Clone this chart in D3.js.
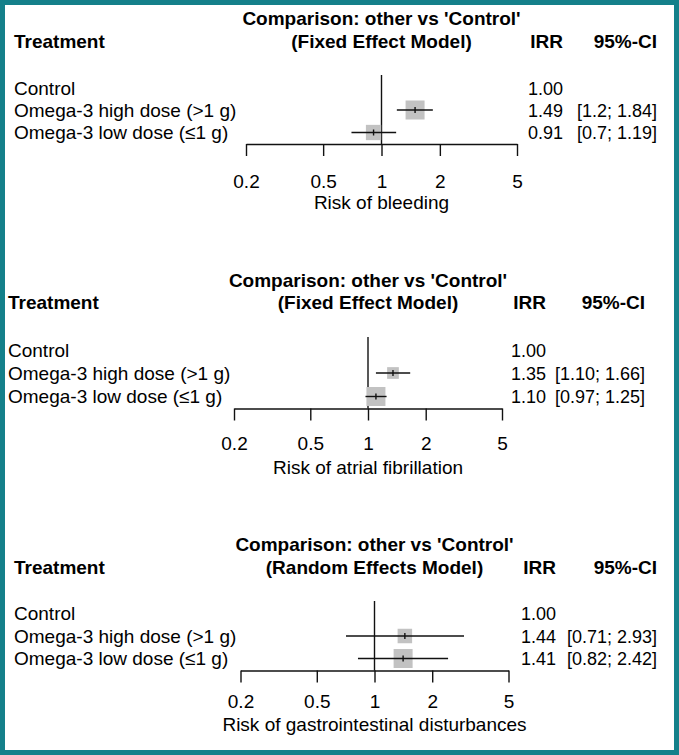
<!DOCTYPE html>
<html>
<head>
<meta charset="utf-8">
<script src="https://cdn.jsdelivr.net/npm/d3@7"></script>
<style>
  html, body { margin: 0; padding: 0; background: #ffffff; }
  svg { display: block; }
  text { font-family: "Liberation Sans", Arial, Helvetica, sans-serif; fill: #000; }
</style>
</head>
<body>
<svg id="chart" width="679" height="755"></svg>
<script>
// ---------------- DATA ----------------
const treatments = ["Control", "Omega-3 high dose (>1 g)", "Omega-3 low dose (\u22641 g)"];
const titleLine = "Comparison: other vs 'Control'";
const models = ["(Fixed Effect Model)", "(Fixed Effect Model)", "(Random Effects Model)"];
const outcomes = ["Risk of bleeding", "Risk of atrial fibrillation", "Risk of gastrointestinal disturbances"];
const irrBleeding = [1.00, 1.49, 0.91];
const lowerBleeding = [null, 1.2, 0.7];
const upperBleeding = [null, 1.84, 1.19];
const ciTextBleeding = ["", "[1.2; 1.84]", "[0.7; 1.19]"];
const irrAF = [1.00, 1.35, 1.10];
const lowerAF = [null, 1.10, 0.97];
const upperAF = [null, 1.66, 1.25];
const ciTextAF = ["", "[1.10; 1.66]", "[0.97; 1.25]"];
const irrGI = [1.00, 1.44, 1.41];
const lowerGI = [null, 0.71, 0.82];
const upperGI = [null, 2.93, 2.42];
const ciTextGI = ["", "[0.71; 2.93]", "[0.82; 2.42]"];
const tickValues = [0.2, 0.5, 1, 2, 5];
const tickLabels = ["0.2", "0.5", "1", "2", "5"];
const xDomain = [0.2, 5];

// ---------------- LAYOUT ----------------
const panels = [
  { irr: irrBleeding, lo: lowerBleeding, hi: upperBleeding, ci: ciTextBleeding,
    titleY: 25, headerY: 48, rowY: [88.5, 110, 132.5], axisY: 144, refTop: 75,
    tickLabelY: 188, axisTitleY: 209, xRange: [246, 517], treatX: 14, irrRight: 563, ciRight: 657 },
  { irr: irrAF, lo: lowerAF, hi: upperAF, ci: ciTextAF,
    titleY: 287, headerY: 309, rowY: [350, 373, 396.5], axisY: 408.5, refTop: 337,
    tickLabelY: 450, axisTitleY: 474, xRange: [234, 502], treatX: 8, irrRight: 546, ciRight: 645 },
  { irr: irrGI, lo: lowerGI, hi: upperGI, ci: ciTextGI,
    titleY: 551, headerY: 574, rowY: [613, 636, 658.5], axisY: 670.5, refTop: 601,
    tickLabelY: 708, axisTitleY: 731, xRange: [240.5, 508.5], treatX: 14, irrRight: 556, ciRight: 657 }
];
const fontSize = 19;
const numFontSize = 18;
const tickLen = 12;
const maxBox = 19;
const lineColor = "#111111";
const lineWidth = 1.4;
const boxColor = "#c2c2c2";
const borderColor = "#14808a";

const svg = d3.select("#chart");
svg.append("rect").attr("x", 0).attr("y", 0).attr("width", 679).attr("height", 755).attr("fill", "#fff");

panels.forEach((p, pi) => {
  const g = svg.append("g");
  const x = d3.scaleLog().domain(xDomain).range(p.xRange);
  const cx = x(1);

  // inverse-variance weights from CI widths -> square side
  const se = p.irr.map((d, i) => p.lo[i] == null ? null : (Math.log(p.hi[i]) - Math.log(p.lo[i])) / (2 * 1.959964));
  const w = se.map(s => s == null ? 0 : 1 / (s * s));
  const wMax = d3.max(w);
  const size = d3.scaleSqrt().domain([0, wMax]).range([0, maxBox]);

  // titles
  g.append("text").attr("x", cx).attr("y", p.titleY).attr("text-anchor", "middle")
    .attr("font-weight", "bold").attr("font-size", fontSize).text(titleLine);
  g.append("text").attr("x", cx).attr("y", p.headerY).attr("text-anchor", "middle")
    .attr("font-weight", "bold").attr("font-size", fontSize).text(models[pi]);
  g.append("text").attr("x", p.treatX).attr("y", p.headerY)
    .attr("font-weight", "bold").attr("font-size", fontSize).text("Treatment");
  g.append("text").attr("x", p.irrRight).attr("y", p.headerY).attr("text-anchor", "end")
    .attr("font-weight", "bold").attr("font-size", fontSize).text("IRR");
  g.append("text").attr("x", p.ciRight).attr("y", p.headerY).attr("text-anchor", "end")
    .attr("font-weight", "bold").attr("font-size", fontSize).text("95%-CI");

  // reference line at 1
  g.append("line").attr("x1", cx).attr("x2", cx).attr("y1", p.refTop).attr("y2", p.axisY)
    .attr("stroke", lineColor).attr("stroke-width", lineWidth);

  // rows
  treatments.forEach((t, i) => {
    const y = p.rowY[i];
    g.append("text").attr("x", p.treatX).attr("y", y + 6.5).attr("font-size", fontSize).text(t);
    g.append("text").attr("x", p.irrRight).attr("y", y + 6.5).attr("text-anchor", "end")
      .attr("font-size", numFontSize).text(d3.format(".2f")(p.irr[i]));
    if (p.ci[i]) {
      g.append("text").attr("x", p.ciRight).attr("y", y + 6.5).attr("text-anchor", "end")
        .attr("font-size", numFontSize).text(p.ci[i]);
    }
    if (p.lo[i] != null) {
      const s = size(w[i]);
      g.append("rect").attr("x", x(p.irr[i]) - s / 2).attr("y", y - s / 2)
        .attr("width", s).attr("height", s).attr("fill", boxColor);
      g.append("line").attr("x1", x(p.lo[i])).attr("x2", x(p.hi[i])).attr("y1", y).attr("y2", y)
        .attr("stroke", lineColor).attr("stroke-width", lineWidth);
      g.append("line").attr("x1", x(p.irr[i])).attr("x2", x(p.irr[i])).attr("y1", y - 3).attr("y2", y + 3)
        .attr("stroke", lineColor).attr("stroke-width", lineWidth);
    }
  });

  // axis
  const axis = d3.axisBottom(x).tickValues(tickValues).tickFormat((d, i) => tickLabels[i])
    .tickSizeInner(tickLen).tickSizeOuter(0).tickPadding(0);
  const ag = g.append("g").attr("transform", `translate(0,${p.axisY})`).call(axis);
  ag.select(".domain").attr("stroke", lineColor).attr("stroke-width", lineWidth);
  ag.selectAll(".tick line").attr("stroke", lineColor).attr("stroke-width", lineWidth);
  ag.selectAll(".tick text").attr("font-size", fontSize)
    .attr("font-family", "Liberation Sans, Arial, sans-serif")
    .attr("fill", "#000").attr("dy", null).attr("y", p.tickLabelY - p.axisY);

  g.append("text").attr("x", cx).attr("y", p.axisTitleY).attr("text-anchor", "middle")
    .attr("font-size", fontSize).text(outcomes[pi]);
});

// frame
svg.append("rect").attr("x", 2.5).attr("y", 2.5).attr("width", 674).attr("height", 750)
  .attr("fill", "none").attr("stroke", borderColor).attr("stroke-width", 5);
</script>
</body>
</html>
